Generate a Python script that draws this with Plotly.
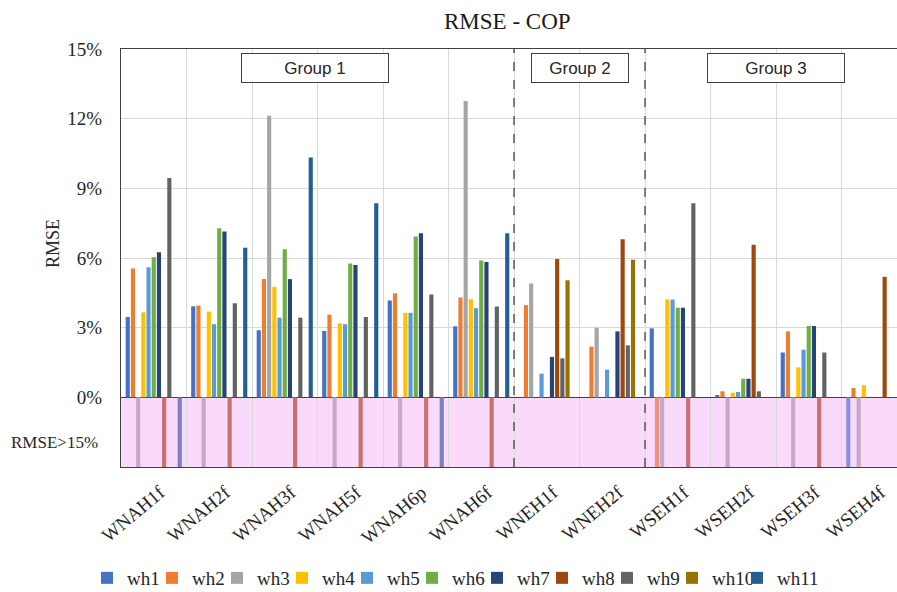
import plotly.graph_objects as go

# ---------------- data ----------------
categories = ["WNAH1f", "WNAH2f", "WNAH3f", "WNAH5f", "WNAH6p", "WNAH6f",
              "WNEH1f", "WNEH2f", "WSEH1f", "WSEH2f", "WSEH3f", "WSEH4f"]
O = ">15%"  # RMSE above 15 %

wh1 = [3.46, 3.92, 2.89, 2.86, 4.17, 3.06, None, None, 2.97, 0.10, 1.93, O]
wh2 = [5.55, 3.95, 5.10, 3.56, 4.48, 4.30, 3.97, 2.18, O, 0.26, 2.84, 0.40]
wh3 = [O, O, 12.13, O, O, 12.76, 4.90, 3.00, O, O, O, O]
wh4 = [3.66, 3.69, 4.76, 3.19, 3.64, 4.22, None, None, 4.22, 0.20, 1.29, 0.52]
wh5 = [5.60, 3.15, 3.43, 3.15, 3.64, 3.84, 1.02, 1.19, 4.21, 0.23, 2.05, None]
wh6 = [6.03, 7.28, 6.38, 5.76, 6.93, 5.89, None, None, 3.86, 0.80, 3.07, None]
wh7 = [6.25, 7.14, 5.09, 5.70, 7.07, 5.83, 1.74, 2.84, 3.86, 0.80, 3.07, None]
wh8 = [O, O, O, O, O, O, 5.96, 6.81, O, 6.57, O, 5.19]
wh9 = [9.44, 4.05, 3.43, 3.46, 4.43, 3.91, 1.68, 2.24, 8.36, 0.26, 1.93, None]
wh10 = [None, None, None, None, None, None, 5.04, 5.92, None, None, None, None]
wh11 = [O, 6.44, 10.33, 8.36, O, 7.07, None, None, None, None, None, None]

series_names = ["wh1", "wh2", "wh3", "wh4", "wh5", "wh6", "wh7", "wh8", "wh9", "wh10", "wh11"]
series_values = [wh1, wh2, wh3, wh4, wh5, wh6, wh7, wh8, wh9, wh10, wh11]

y_ticks = [0, 3, 6, 9, 12, 15]
group_labels = ["Group 1", "Group 2", "Group 3"]

# ---------------- style ----------------
colors = ["#4472C4", "#ED7D31", "#A5A5A5", "#FFC000", "#5B9BD5", "#70AD47",
          "#264478", "#9E480E", "#636363", "#997300", "#255E91"]
over_colors = ["#8890E0", "#F09080", "#C8A8C8", "#E8C8A0", "#A8B8E8", "#B0D0A0",
               "#7880C0", "#C87070", "#B0A0B0", "#C8B890", "#7880C0"]
PINK = "#FADAFA"
BAND = -3
SERIF = "Liberation Serif, Times New Roman, serif"
SANS = "Liberation Sans, Arial, sans-serif"
TXT = "#262626"

PW, PH = 776, 418  # plot area size in px
xs = list(range(len(categories)))
fig = go.Figure()
for name, vals, c, oc in zip(series_names, series_values, colors, over_colors):
    pos = [v if isinstance(v, (int, float)) else None for v in vals]
    over = [BAND if v == O else None for v in vals]
    fig.add_trace(go.Bar(x=xs, y=pos, name=name, offsetgroup=name,
                         marker=dict(color=c, line=dict(width=0))))
    fig.add_trace(go.Bar(x=xs, y=over, name=name + " >15%", offsetgroup=name,
                         showlegend=False,
                         marker=dict(color=oc, line=dict(width=0))))
# empty legend spacer so the last legend label is not clipped
fig.add_trace(go.Scatter(x=[None], y=[None], mode="lines", name=" ",
                         line=dict(width=0, color="rgba(0,0,0,0)"),
                         hoverinfo="skip"))

# pink band for RMSE > 15 %
fig.add_shape(type="rect", xref="paper", yref="y", x0=0, x1=1, y0=BAND, y1=0,
              fillcolor=PINK, line=dict(width=0), layer="below")
# group separators
for xb in [5.5, 7.5]:
    fig.add_shape(type="line", xref="x", yref="y", x0=xb, x1=xb, y0=BAND, y1=15,
                  line=dict(color="#404040", width=1.3, dash="dash"))

# group boxes
for lab, xc, w in zip(group_labels, [2.46, 6.5, 9.5], [144, 94, 134]):
    fig.add_annotation(x=xc, y=14.18, xref="x", yref="y", text=lab, showarrow=False,
                       width=w, height=26, bgcolor="white", bordercolor="#404040",
                       borderwidth=1, font=dict(family=SANS, size=17, color=TXT))

# title and axis texts
fig.add_annotation(x=(507.5 - 121) / PW, y=1.066, xref="paper", yref="paper",
                   text="RMSE - COP", showarrow=False, xanchor="center", yanchor="middle",
                   font=dict(family=SERIF, size=23, color="#1a1a1a"))
fig.add_annotation(x=-(121 - 53) / PW, y=(467 - 244) / PH, xref="paper", yref="paper",
                   text="RMSE", textangle=-90, showarrow=False,
                   xanchor="center", yanchor="middle",
                   font=dict(family=SERIF, size=18, color=TXT))
fig.add_annotation(x=-(121 - 100) / PW, y=-1.95, xref="paper", yref="y",
                   text="RMSE>15%", showarrow=False, xanchor="right", yanchor="middle",
                   font=dict(family=SERIF, size=17, color=TXT))

fig.update_layout(
    width=897, height=592,
    margin=dict(l=121, r=0, t=49, b=125, autoexpand=False),
    plot_bgcolor="white", paper_bgcolor="white",
    barmode="group", bargap=0.127, bargroupgap=0.2,
    font=dict(family=SERIF, size=17, color=TXT),
    legend=dict(orientation="h", x=-34 / PW, xanchor="left",
                y=-(578 - 467) / PH, yanchor="middle",
                font=dict(family=SERIF, size=19, color=TXT),
                itemwidth=30, entrywidth=20, entrywidthmode="pixels",
                tracegroupgap=0, bgcolor="rgba(0,0,0,0)"),
    showlegend=True,
)
fig.update_xaxes(
    range=[-0.5, -0.5 + PW / 65.5],
    tickmode="array", tickvals=xs, ticktext=categories, tickangle=-40,
    tickfont=dict(family=SERIF, size=19, color=TXT),
    showgrid=False, ticks="outside", ticklen=6, tickcolor="rgba(0,0,0,0)",
    ticklabelshift=6,
    minor=dict(tickmode="linear", tick0=-0.5, dtick=1, showgrid=True,
               gridcolor="#D9D9D9", gridwidth=1),
    showline=True, linecolor="#404040", linewidth=1.3, mirror=True,
    zeroline=False, automargin=False,
)
fig.update_yaxes(
    range=[BAND, 15], tickmode="array", tickvals=y_ticks,
    ticktext=[f"{t}%" for t in y_ticks],
    tickfont=dict(family=SERIF, size=19, color=TXT),
    showgrid=True, gridcolor="#D9D9D9", gridwidth=1,
    zeroline=True, zerolinecolor="#404040", zerolinewidth=1.3,
    showline=True, linecolor="#404040", linewidth=1.3, mirror=True,
    ticks="outside", ticklen=14, tickcolor="rgba(0,0,0,0)",
    automargin=False,
)

fig.write_html("out.html", config={"displayModeBar": False},
               post_script="document.body.style.margin='0';document.body.style.overflow='hidden';")
